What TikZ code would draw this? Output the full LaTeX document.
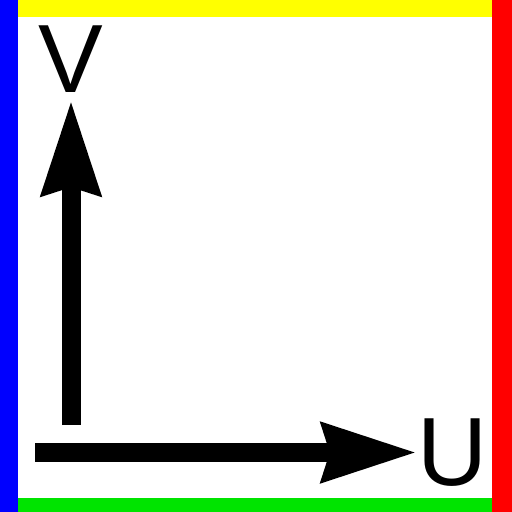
\documentclass[tikz,border=0pt]{standalone}
\usepackage{fontspec}
\setmainfont{Liberation Sans}
\usetikzlibrary{arrows.meta}
\definecolor{bblue}{RGB}{0,0,255}
\definecolor{byellow}{RGB}{255,255,0}
\definecolor{bred}{RGB}{255,0,0}
\definecolor{bgreen}{RGB}{0,228,0}
\tikzset{
  axis/.style={line width=19pt, -{Stealth[length=94pt,width=57pt,inset=7pt]}},
  lbl/.style={inner sep=0pt, font=\fontsize{97}{97}\selectfont}
}
\begin{document}
\begin{tikzpicture}[x=1pt,y=-1pt]
\useasboundingbox (0,0) rectangle (512,512);
\fill[white] (0,0) rectangle (512,512);
\fill[bblue] (0,0) rectangle (17.5,512);
\fill[bred] (491.5,0) rectangle (512,512);
\fill[byellow] (17.5,0) rectangle (491.5,17.3);
\fill[bgreen] (17.5,497.7) rectangle (491.5,512);
\coordinate (hstart) at (35,452.5);
\coordinate (htip) at (417,452.5);
\coordinate (vstart) at (71,425);
\coordinate (vtip) at (71,100);
\node[lbl, anchor=south] (V) at (71,93) {V};
\node[lbl, anchor=base west] (U) at (417.5,485) {U};
\draw[axis] (hstart) -- (htip);
\draw[axis] (vstart) -- (vtip);
\end{tikzpicture}
\end{document}
